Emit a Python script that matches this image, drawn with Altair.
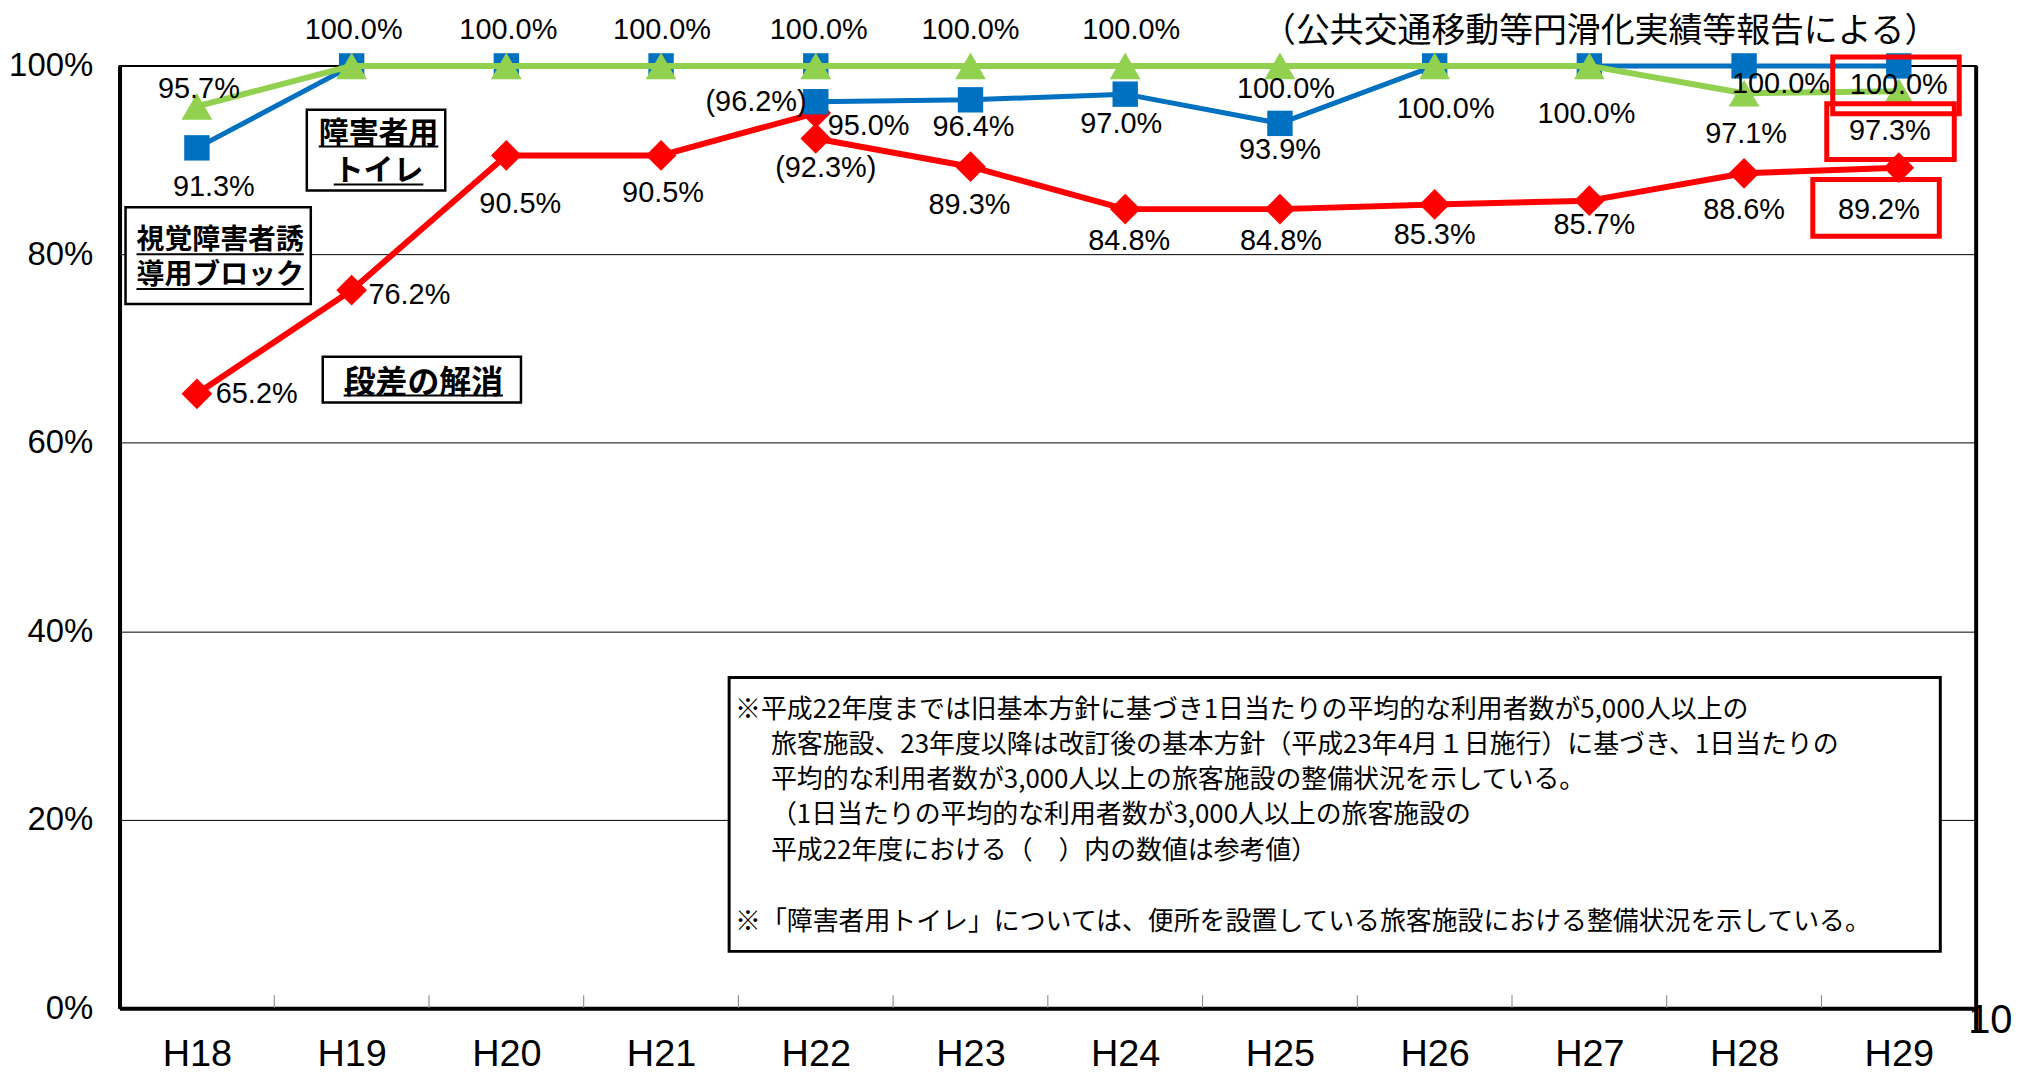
import json
import altair as alt
import pandas as pd

# ---------------- data ----------------
categories = ["H18", "H19", "H20", "H21", "H22", "H23", "H24", "H25", "H26", "H27", "H28", "H29"]

# 障害者用トイレ (blue squares): old standard H18-H22, new standard H22-H29
toilet_old_cats = ["H18", "H19", "H20", "H21", "H22"]
toilet_old = [91.3, 100.0, 100.0, 100.0, 100.0]
toilet_new_cats = ["H22", "H23", "H24", "H25", "H26", "H27", "H28", "H29"]
toilet_new = [96.2, 96.4, 97.0, 93.9, 100.0, 100.0, 100.0, 100.0]

# 視覚障害者誘導用ブロック (green triangles)
block_cats = categories
block_vals = [95.7, 100.0, 100.0, 100.0, 100.0, 100.0, 100.0, 100.0, 100.0, 100.0, 97.1, 97.3]

# 段差の解消 (red diamonds)
step_old_cats = ["H18", "H19", "H20", "H21", "H22"]
step_old = [65.2, 76.2, 90.5, 90.5, 95.0]
step_new_cats = ["H22", "H23", "H24", "H25", "H26", "H27", "H28", "H29"]
step_new = [92.3, 89.3, 84.8, 84.8, 85.3, 85.7, 88.6, 89.2]

# data labels: category, value, shown in parentheses (reference value)
label_cats = ["H18", "H18", "H18", "H19", "H19", "H20", "H21", "H22", "H23", "H24",
              "H20", "H21", "H22", "H22", "H22", "H23", "H23", "H24", "H24",
              "H25", "H25", "H25", "H26", "H26", "H27", "H27",
              "H28", "H28", "H28", "H29", "H29", "H29"]
label_vals = [95.7, 91.3, 65.2, 76.2, 100.0, 100.0, 100.0, 100.0, 100.0, 100.0,
              90.5, 90.5, 96.2, 95.0, 92.3, 96.4, 89.3, 97.0, 84.8,
              100.0, 93.9, 84.8, 100.0, 85.3, 100.0, 85.7,
              100.0, 97.1, 88.6, 100.0, 97.3, 89.2]
label_paren = [False, False, False, False, False, False, False, False, False, False,
               False, False, True, False, True, False, False, False, False,
               False, False, False, False, False, False, False,
               False, False, False, False, False, False]

title_text = "（公共交通移動等円滑化実績等報告による）"
note_lines = [
    "※平成22年度までは旧基本方針に基づき1日当たりの平均的な利用者数が5,000人以上の",
    "旅客施設、23年度以降は改訂後の基本方針（平成23年4月１日施行）に基づき、1日当たりの",
    "平均的な利用者数が3,000人以上の旅客施設の整備状況を示している。",
    "（1日当たりの平均的な利用者数が3,000人以上の旅客施設の",
    "平成22年度における（　）内の数値は参考値）",
    "※「障害者用トイレ」については、便所を設置している旅客施設における整備状況を示している。",
]
annot_lines = ["障害者用", "トイレ", "視覚障害者誘", "導用ブロック", "段差の解消"]
right_axis_text = "10"

# ---------------- layout (pixels) ----------------
PAD_L, PAD_T, PAD_R, PAD_B = 112, 56, 40, 67
W, H = 1864, 946
BAND = W / 12.0
PCT = H / 100.0
NUM_FONT = "Liberation Sans, Arial, sans-serif"
CJK = "Noto Sans CJK JP"
BLUE, GREEN, RED = "#0070C0", "#92D050", "#FF0000"

label_dx = [2, 17, 60, 58, 2, 2, 1, 3, 0, 6,
            14, 2, -60, 53, 10, 3, -1, -4, 4,
            6, 0, 1, 11, 0, -3, 5,
            37, 2, 0, 0, -9, -20]
label_dy = [-17, 39, 0, 5, -36, -36, -36, -36, -36, -36,
            49, 38, 0, 13, 30, 27, 38, 30, 32,
            23, 27, 32, 43, 31, 48, 24,
            18, 41, 37, 19, 40, 43]

def ix(px):
    return px / BAND - 0.5

def iv(py):
    return 100.0 - py / PCT

cidx = {c: i for i, c in enumerate(categories)}

# ---------------- frames ----------------
def series_df(parts):
    rows = []
    for seg, (cats, vals) in enumerate(parts):
        for c, v in zip(cats, vals):
            rows.append({"x": cidx[c], "y": v, "seg": seg})
    return pd.DataFrame(rows)

toilet_df = series_df([(toilet_old_cats, toilet_old), (toilet_new_cats, toilet_new)])
block_df = series_df([(block_cats, block_vals)])
step_df = series_df([(step_old_cats, step_old), (step_new_cats, step_new)])

labels_df = pd.DataFrame({
    "x": [cidx[c] + dx / BAND for c, dx in zip(label_cats, label_dx)],
    "y": [v - dy / PCT for v, dy in zip(label_vals, label_dy)],
    "text": [("(%.1f%%)" if p else "%.1f%%") % v for v, p in zip(label_vals, label_paren)],
})

ticks_df = pd.DataFrame({"x": [i + 0.5 for i in range(len(categories) - 1)],
                         "y": 0.0, "y2": 13 / PCT})

black_boxes_px = [(188, 327, 44, 125), (6, 192, 142, 239), (204, 403, 292, 338)]
note_box_px = (612, 1828, 614, 889)
boxes_df = pd.DataFrame([{"x": ix(a), "x2": ix(b), "y": iv(c), "y2": iv(d)} for a, b, c, d in black_boxes_px])
note_box_df = pd.DataFrame([{"x": ix(note_box_px[0]), "x2": ix(note_box_px[1]),
                             "y": iv(note_box_px[2]), "y2": iv(note_box_px[3])}])

red_boxes_px = [(1720, 1847, -9, 48), (1714, 1842, 38, 94), (1700, 1827, 114, 171)]
red_df = pd.DataFrame([{"x": ix(a), "x2": ix(b), "y": iv(c), "y2": iv(d)} for a, b, c, d in red_boxes_px])

annot_pos = [(260, 68, 30), (260, 106, 30), (101, 176, 28), (101, 211, 28), (305, 318, 32)]
annot_df = pd.DataFrame([{"x": ix(cx), "y": iv(cy), "text": t, "fs": fs}
                         for t, (cx, cy, fs) in zip(annot_lines, annot_pos)])
under_df = pd.DataFrame([{"x": ix(cx - len(t) * fs / 2), "x2": ix(cx + len(t) * fs / 2), "y": iv(cy + 13)}
                         for t, (cx, cy, fs) in zip(annot_lines, annot_pos)])

note_pos = [(618, 647), (654, 682), (654, 717), (654, 752), (654, 788), (618, 860)]
note_df = pd.DataFrame([{"x": ix(px), "y": iv(py), "text": t} for t, (px, py) in zip(note_lines, note_pos)])

title_df = pd.DataFrame([{"x": ix(1826), "y": iv(-34), "text": title_text}])

right_df = pd.DataFrame([{"x": 11.5, "y": 100.0, "y2": iv(971)}])
right_text_df = pd.DataFrame([{"x": 11.5 - 8 / BAND, "y": iv(971), "text": right_axis_text}])

# ---------------- encodings ----------------
xs = alt.Scale(domain=[-0.5, 11.5], nice=False, zero=False)
ys = alt.Scale(domain=[0, 100], nice=False, zero=False)
xaxis = alt.Axis(values=list(range(len(categories))),
                 labelExpr=json.dumps(categories) + "[datum.value]",
                 ticks=False, tickSize=0, grid=False, domainColor="black", domainWidth=4,
                 labelFont=NUM_FONT, labelFontSize=38, labelColor="black", labelPadding=28,
                 labelFlush=False, labelOverlap=False, title=None)
yaxis = alt.Axis(values=[0, 20, 40, 60, 80, 100], labelExpr="datum.value + '%'",
                 ticks=False, tickSize=0, grid=True, gridColor="black", gridWidth=1,
                 domainColor="black", domainWidth=4,
                 labelFont=NUM_FONT, labelFontSize=33, labelColor="black", labelPadding=27,
                 labelFlush=False, labelOverlap=False, title=None)

X = alt.X("x:Q", scale=xs, axis=xaxis)
Y = alt.Y("y:Q", scale=ys, axis=yaxis)

layers = []
layers.append(alt.Chart(ticks_df).mark_rule(color="#808080", strokeWidth=1).encode(x=X, y=Y, y2="y2:Q"))
layers.append(alt.Chart(note_box_df).mark_rect(fill="white", stroke="black", strokeWidth=3).encode(x=X, x2="x2:Q", y=Y, y2="y2:Q"))
layers.append(alt.Chart(boxes_df).mark_rect(fill="white", stroke="black", strokeWidth=2.5).encode(x=X, x2="x2:Q", y=Y, y2="y2:Q"))
layers.append(alt.Chart(right_df).mark_rule(color="black", strokeWidth=4).encode(x=X, y=Y, y2="y2:Q"))

for df, color, shape, size, lw in [(step_df, RED, "diamond", 950, 6),
                                   (toilet_df, BLUE, "square", 650, 5),
                                   (block_df, GREEN, "triangle-up", 950, 6)]:
    layers.append(alt.Chart(df).mark_line(color=color, strokeWidth=lw, strokeJoin="round").encode(
        x=X, y=Y, detail="seg:N", order="x:Q"))
    layers.append(alt.Chart(df).mark_point(shape=shape, filled=True, size=size, color=color,
                                           opacity=1, strokeWidth=0).encode(x=X, y=Y))

layers.append(alt.Chart(labels_df).mark_text(font=NUM_FONT, fontSize=29, color="black",
                                             align="center", baseline="middle").encode(x=X, y=Y, text="text:N"))
layers.append(alt.Chart(annot_df).mark_text(font=CJK, fontWeight="bold", color="black",
                                            align="center", baseline="middle").encode(
    x=X, y=Y, text="text:N", size=alt.Size("fs:Q", scale=None, legend=None)))
layers.append(alt.Chart(under_df).mark_rule(color="black", strokeWidth=2).encode(x=X, x2="x2:Q", y=Y))
layers.append(alt.Chart(note_df).mark_text(font=CJK, fontSize=26, color="black",
                                           align="left", baseline="middle").encode(x=X, y=Y, text="text:N"))
layers.append(alt.Chart(red_df).mark_rect(fillOpacity=0, stroke=RED, strokeWidth=5).encode(
    x=X, x2="x2:Q", y=Y, y2="y2:Q"))
layers.append(alt.Chart(title_df).mark_text(font=CJK, fontSize=34, color="black",
                                            align="right", baseline="middle").encode(x=X, y=Y, text="text:N"))
layers.append(alt.Chart(right_text_df).mark_text(font=NUM_FONT, fontSize=40, color="black",
                                                 align="left", baseline="alphabetic").encode(x=X, y=Y, text="text:N"))

chart = alt.layer(*layers).properties(
    width=W, height=H,
    padding={"left": PAD_L, "top": PAD_T, "right": PAD_R, "bottom": PAD_B},
    autosize=alt.AutoSizeParams(type="none"),
).configure_view(stroke="black", strokeWidth=2)

chart.save("out.html", embed_options={"renderer": "svg", "actions": False})
